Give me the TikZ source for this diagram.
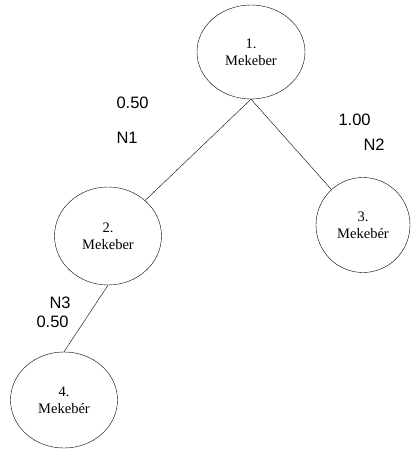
\documentclass[tikz,border=0pt]{standalone}
\usepackage{fontspec}
\usetikzlibrary{shapes.geometric}
\setmainfont{Liberation Serif}
\newfontfamily\labelfont{Liberation Sans}

\begin{document}
\begin{tikzpicture}[x=1pt, y=-1pt,
  kep/.style={draw, ellipse, inner sep=0pt, align=center,
    font=\fontsize{14.5}{17}\selectfont},
  suly/.style={font=\labelfont\fontsize{16.5}{19}\selectfont, anchor=west}]
  \useasboundingbox (0, 0) rectangle (416, 450);

  \draw (251, 52) node[kep, minimum width=108, minimum height=94] (k1) {1.\\Mekeber};
  \draw (108, 236) node[kep, minimum width=107, minimum height=98] (k2) {2.\\Mekeber};
  \draw (363, 225) node[kep, minimum width=94, minimum height=95] (k3) {3.\\Mekebér};
  \draw (64, 400) node[kep, minimum width=107, minimum height=96] (k4) {4.\\Mekebér};

  \draw (113, 103) node[suly] (s1) {0.50};
  \draw (113, 138) node[suly] (n1) {N1};
  \draw (335, 120) node[suly] (s2) {1.00};
  \draw (360, 145) node[suly] (n2) {N2};
  \draw (46, 303) node[suly] (n3) {N3};
  \draw (33, 322) node[suly] (s3) {0.50};

  \draw (k1.south) -- (k2);
  \draw (k1.south) -- (k3);
  \draw (k2.south) -- (k4.north);

\end{tikzpicture}
\end{document}
